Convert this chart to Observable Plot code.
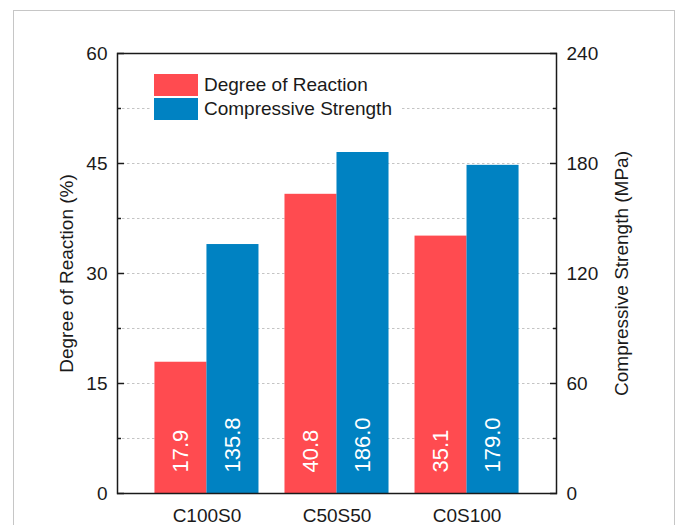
<!DOCTYPE html>
<html><head><meta charset="utf-8">
<script src="https://cdn.jsdelivr.net/npm/d3@7"></script>
<script src="https://cdn.jsdelivr.net/npm/@observablehq/plot@0.6"></script>
<style>
body{margin:0;background:#fff;}
#wrap{position:relative;width:678px;height:525px;overflow:hidden;font-family:"Liberation Sans",Arial,sans-serif;color:#1a1a1a;}
#border{position:absolute;left:13px;top:10px;width:662px;height:600px;border:1.5px solid #c6c6c6;box-sizing:border-box;}
#chart{position:absolute;left:0;top:0;}
#legend{position:absolute;left:150px;top:70px;background:#fff;padding:3px 8px 3px 4px;font-size:19px;}
.item{display:flex;align-items:center;height:24px;}
.sw{width:44px;height:22px;margin-right:6px;}
</style>
</head><body>
<div id="wrap"><div id="border"></div><div id="chart"></div><div id="legend"></div></div>
<script>
const categories = ["C100S0", "C50S50", "C0S100"];
const degreeOfReaction = [17.9, 40.8, 35.1];          // %
const compressiveStrength = [135.8, 186.0, 179.0];    // MPa
const seriesNames = ["Degree of Reaction", "Compressive Strength"];
const colors = ["#ff4b50", "#0082c2"];
const leftTicks = [0, 15, 30, 45, 60];
const minorTicks = [7.5, 22.5, 37.5, 52.5];
const gridTicks = [7.5, 15, 22.5, 30, 37.5, 45, 52.5];
const ratio = 4; // right axis (0-240) / left axis (0-60)
const leftTitle = "Degree of Reaction (%)";
const rightTitle = "Compressive Strength (MPa)";

const rows = categories.map((c, i) => ({cat: c, dor: degreeOfReaction[i], cs: compressiveStrength[i]}));

const chart = Plot.plot({
  width: 678, height: 525,
  marginLeft: 117, marginRight: 122, marginTop: 53, marginBottom: 32,
  style: {fontSize: "19px", fontFamily: "'Liberation Sans', Arial, sans-serif", background: "transparent", color: "#1a1a1a"},
  x: {domain: categories, paddingInner: 0.2, paddingOuter: 0.288, round: false},
  y: {domain: [0, 60]},
  marks: [
    Plot.gridY(gridTicks, {stroke: "#c4c4c4", strokeOpacity: 1, strokeDasharray: "2.5,2.5"}),
    Plot.barY(rows, {x: "cat", y: "dor", fill: colors[0], insetRight: 52}),
    Plot.barY(rows, {x: "cat", y: d => d.cs / ratio, fill: colors[1], insetLeft: 52}),
    Plot.text(rows, {x: "cat", y: 0, text: d => d.dor.toFixed(1), rotate: -90, textAnchor: "start", dx: -26, dy: -21, fill: "white", fontSize: 22}),
    Plot.text(rows, {x: "cat", y: 0, text: d => d.cs.toFixed(1), rotate: -90, textAnchor: "start", dx: 26, dy: -21, fill: "white", fontSize: 22}),
    Plot.frame({stroke: "#1a1a1a", strokeWidth: 1.5}),
    Plot.axisY(leftTicks, {anchor: "left", tickSize: -7, tickPadding: 17, strokeWidth: 1.5, label: null}),
    Plot.axisY(minorTicks, {anchor: "left", tickSize: -4, tickFormat: () => "", strokeWidth: 1.5, label: null}),
    Plot.axisY(leftTicks, {anchor: "right", tickSize: -7, tickPadding: 17, strokeWidth: 1.5, tickFormat: d => d * ratio, label: null}),
    Plot.axisY(minorTicks, {anchor: "right", tickSize: -4, tickFormat: () => "", strokeWidth: 1.5, label: null}),
    Plot.axisX({tickSize: 0, tickPadding: 15, label: null}),
    Plot.text([leftTitle], {frameAnchor: "left", textAnchor: "middle", rotate: -90, dx: -51}),
    Plot.text([rightTitle], {frameAnchor: "right", textAnchor: "middle", rotate: -90, dx: 65})
  ]
});
document.getElementById("chart").appendChild(chart);

const legend = document.getElementById("legend");
seriesNames.forEach((n, i) => {
  const it = document.createElement("div");
  it.className = "item";
  it.innerHTML = `<div class="sw" style="background:${colors[i]}"></div><span>${n}</span>`;
  legend.appendChild(it);
});
</script>
</body></html>
